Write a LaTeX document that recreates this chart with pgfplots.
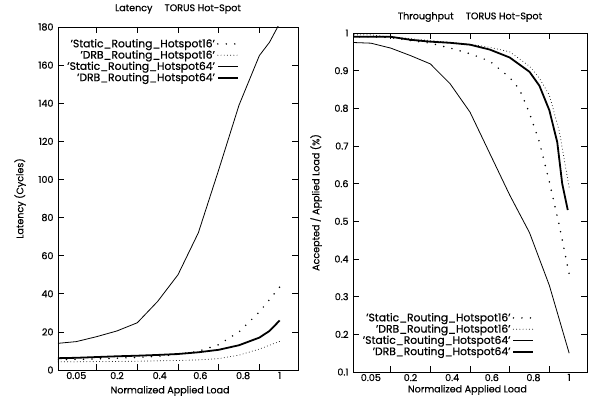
\documentclass[border=0pt]{standalone}
\usepackage{pgfplots}
\pgfplotsset{compat=1.18}
\usepackage{fontspec}
\setmainfont{Poppins}[FakeBold=0.6]
\begin{document}
\begin{tikzpicture}
\useasboundingbox (0,0) rectangle (592bp,403bp);
\pgfplotsset{
  myax/.style={
    scale only axis, anchor=south west,
    font=\fontsize{9.6}{10}\selectfont,
    xmin=-0.09, xmax=1.09,
    xtick={0.1,0.3,0.5,0.7,0.9}, xticklabels={},
    extra x ticks={0,0.2,0.41,0.61,0.82,1},
    extra x tick labels={0.05,0.2,0.4,0.6,0.8,1},
    extra x tick style={tick style={draw=none}},
    tick align=inside, tick pos=both,
    major tick length=6bp,
    /pgf/number format/assume math mode=true,
    axis line style={line width=0.8pt},
    tick style={line width=0.7pt, black},
    yticklabel style={xshift=-1bp},
    xticklabel style={yshift=1.5bp},
    xlabel={Normalized Applied Load},
    legend plot pos=right, legend cell align=right,
    legend style={draw=none, fill=none, font=\fontsize{10.8}{10.8}\selectfont, row sep=-2.4pt, inner sep=1pt},
    legend image code/.code={\draw[##1] (0bp,0bp) -- (20bp,0bp);},
  },
  s16/.style={black, line width=1.7pt, line cap=round, dash pattern=on 0pt off 8.5bp},
  d16/.style={black, line width=0.95pt, line cap=round, dash pattern=on 0pt off 3.2bp},
  s64/.style={black, line width=0.8pt, line join=round},
  d64/.style={black, line width=1.8pt, line join=round},
}
\begin{axis}[myax,
  at={(58bp,33bp)}, width=240bp, height=343bp,
  ymin=0, ymax=180, ytick={0,20,40,60,80,100,120,140,160,180},
  title={Latency\quad\ TORUS Hot-Spot},
  title style={at={(axis description cs:0.5,1.035)}, anchor=center},
  xlabel style={at={(axis description cs:0.467,-0.061)}, anchor=center},
  ylabel={Latency (Cycles)},
  ylabel style={at={(axis description cs:-0.158,0.5)}, anchor=center},
  legend style={at={(axis description cs:0.758,0.974)}, anchor=north east},
]
\addplot[s16] coordinates {(-0.09,5.5)(0,5.6)(0.1,5.8)(0.2,6.2)(0.3,6.6)(0.4,7.2)(0.5,8.2)(0.6,9.8)(0.7,13.3)(0.8,20)(0.9,30.5)(1.0,43.5)};
\addplot[d16] coordinates {(-0.09,4.3)(0,4.3)(0.1,4.4)(0.2,4.5)(0.3,4.6)(0.4,4.8)(0.5,5.0)(0.6,5.3)(0.7,6.0)(0.8,7.8)(0.9,11)(1.0,15)};
\addplot[s64] coordinates {(-0.09,14)(0,14.9)(0.1,17.5)(0.2,20.5)(0.3,24.8)(0.4,36)(0.5,50)(0.6,72)(0.7,105)(0.8,139)(0.9,165)(0.95,172)(1.0,182)};
\addplot[d64] coordinates {(-0.09,6.2)(0,6.4)(0.1,6.8)(0.2,7.2)(0.3,7.5)(0.4,7.9)(0.5,8.4)(0.6,9.3)(0.7,10.6)(0.8,13)(0.9,17)(0.95,20.5)(1.0,26)};
\legend{'Static\_Routing\_Hotspot16','DRB\_Routing\_Hotspot16','Static\_Routing\_Hotspot64','DRB\_Routing\_Hotspot64'}
\end{axis}
\begin{axis}[myax,
  at={(353bp,31bp)}, width=234bp, height=339bp,
  ymin=0.1, ymax=1, ytick={0.1,0.2,0.3,0.4,0.5,0.6,0.7,0.8,0.9,1},
  yticklabels={0.1,0.2,0.3,0.4,0.5,0.6,0.7,0.8,0.9,1},
  title={Throughput\quad\ TORUS Hot-Spot},
  title style={at={(axis description cs:0.5,1.0295)}, anchor=center},
  xlabel style={at={(axis description cs:0.489,-0.053)}, anchor=center},
  ylabel={Accepted / Applied Load (\%)},
  ylabel style={at={(axis description cs:-0.158,0.5)}, anchor=center},
  legend style={at={(axis description cs:0.78,0.036)}, anchor=south east},
]
\addplot[s16] coordinates {(-0.1,0.99)(0,0.99)(0.1,0.988)(0.2,0.98)(0.3,0.973)(0.4,0.96)(0.5,0.945)(0.6,0.925)(0.7,0.882)(0.75,0.85)(0.8,0.787)(0.85,0.71)(0.9,0.605)(0.95,0.49)(1.0,0.36)};
\addplot[d16] coordinates {(-0.1,0.995)(0,0.995)(0.1,0.99)(0.2,0.985)(0.3,0.98)(0.4,0.975)(0.5,0.97)(0.6,0.962)(0.7,0.95)(0.8,0.912)(0.85,0.88)(0.9,0.835)(0.95,0.74)(1.0,0.59)};
\addplot[s64] coordinates {(-0.1,0.975)(0,0.973)(0.1,0.96)(0.2,0.94)(0.3,0.918)(0.4,0.865)(0.5,0.79)(0.6,0.68)(0.7,0.57)(0.8,0.47)(0.9,0.33)(1.0,0.15)};
\addplot[d64] coordinates {(-0.1,0.99)(0,0.99)(0.1,0.99)(0.2,0.982)(0.3,0.977)(0.4,0.974)(0.5,0.969)(0.6,0.956)(0.7,0.935)(0.8,0.897)(0.85,0.86)(0.9,0.795)(0.94,0.71)(0.965,0.60)(0.993,0.53)};
\legend{'Static\_Routing\_Hotspot16','DRB\_Routing\_Hotspot16','Static\_Routing\_Hotspot64','DRB\_Routing\_Hotspot64'}
\end{axis}
\end{tikzpicture}
\end{document}
